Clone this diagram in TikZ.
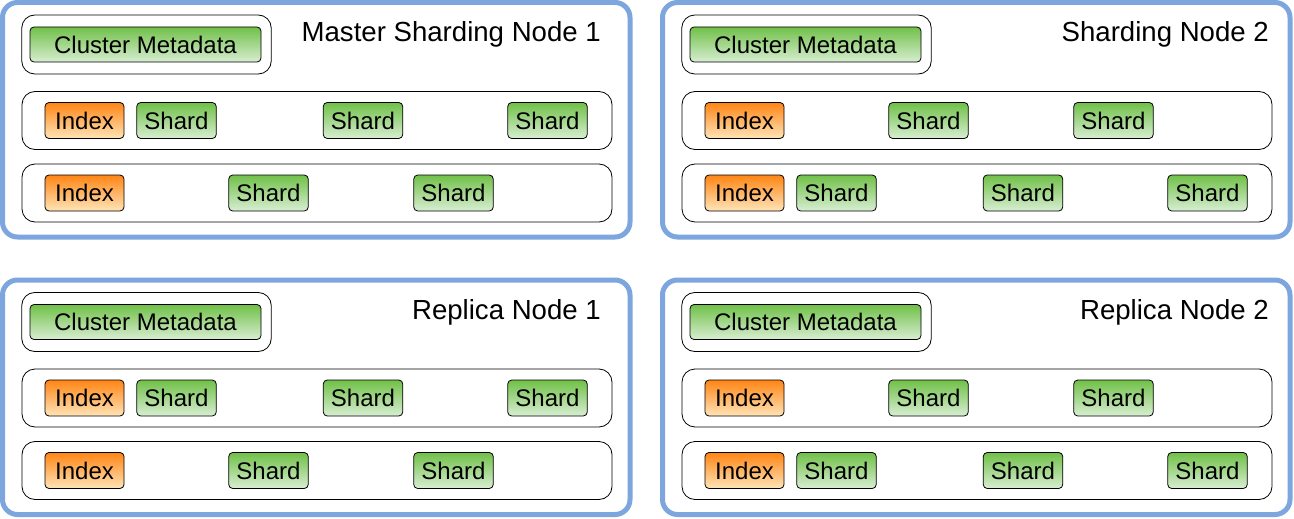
\documentclass[tikz,border=0pt]{standalone}
\usepackage{fontspec}
\setmainfont{Liberation Sans}
\usetikzlibrary{positioning}
\definecolor{panelblue}{RGB}{125,166,222}
\definecolor{shardtop}{RGB}{112,192,72}
\definecolor{shardbot}{RGB}{216,238,210}
\definecolor{indextop}{RGB}{255,133,20}
\definecolor{indexbot}{RGB}{255,228,184}
\def\rowA#1#2{%
	\node[row] (#1) at (317,#2) {};
	\node[index] (#1i) at (84.5,#2) {Index};
	\node[shard] (#1s1) at (176.5,#2) {Shard};
	\node[shard] (#1s2) at (363,#2) {Shard};
	\node[shard] (#1s3) at (547.5,#2) {Shard};}
\def\rowB#1#2{%
	\node[row] (#1) at (317,#2) {};
	\node[index] (#1i) at (84.5,#2) {Index};
	\node[shard] (#1s1) at (268.5,#2) {Shard};
	\node[shard] (#1s2) at (453.5,#2) {Shard};}
\def\panel#1#2#3#4#5#6{%
	\begin{scope}[shift={(#2,#3)}]
		\node[panel] (#1) at (316.25,119.75) {};
		\node[meta box] (#1m) at (146.5,44.5) {};
		\node[meta] (#1c) at (145.5,44.5) {Cluster Metadata};
		\node[title, anchor=base east] (#1t) at (#5,42) {#4};
		#6
	\end{scope}}

\begin{document}
\begin{tikzpicture}[x=1pt,y=-1pt,
			panel/.style={draw=panelblue, line width=5pt, fill=white, rounded corners=15pt,
				minimum width=627.5pt, minimum height=234.5pt},
			row/.style={draw, line width=0.8pt, fill=white, rounded corners=13pt,
				minimum width=590pt, minimum height=58pt},
			meta box/.style={row, minimum width=249.5pt, minimum height=59pt},
			small/.style={draw, line width=0.8pt, rounded corners=4pt, inner sep=0pt,
				minimum height=36pt, font=\fontsize{24}{28}\selectfont},
			shard/.style={small, minimum width=79.5pt, top color=shardtop, bottom color=shardbot},
			index/.style={small, minimum width=79pt, top color=indextop, bottom color=indexbot},
			meta/.style={shard, minimum width=231pt, minimum height=35pt},
			title/.style={inner sep=0pt, font=\fontsize{27.6}{32}\selectfont}]
			\useasboundingbox[fill=white] (0,0) rectangle (1294,519);
			
			\panel{M}{0}{0}{Master Sharding Node 1}{601}{\rowA{Ma}{120.5}\rowB{Mb}{193}}
			\panel{S}{660}{0}{Sharding Node 2}{609}{\rowB{Sa}{120.5}\rowA{Sb}{193}}
			\panel{R}{0}{277.5}{Replica Node 1}{601}{\rowA{Ra}{120.5}\rowB{Rb}{193}}
			\panel{Q}{660}{277.5}{Replica Node 2}{609}{\rowB{Qa}{120.5}\rowA{Qb}{193}}
\end{tikzpicture}
\end{document}
